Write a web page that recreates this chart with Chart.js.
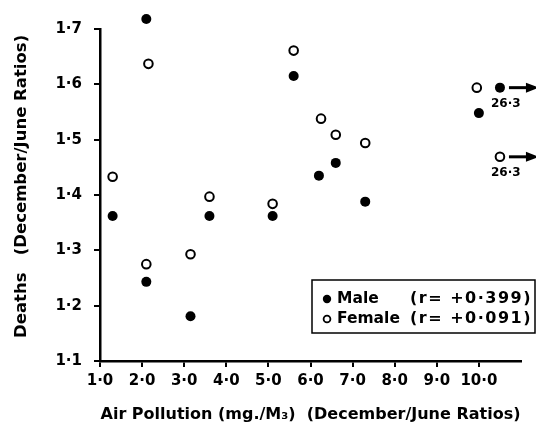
<!DOCTYPE html>
<html>
<head>
<meta charset="utf-8">
<script src="https://cdn.jsdelivr.net/npm/chart.js@4.4.0/dist/chart.umd.min.js"></script>
<style>
  html, body { margin: 0; padding: 0; background: #fff; }
</style>
</head>
<body>
<canvas id="c" width="536" height="424"></canvas>
<script>
// air pollution ratio (x) vs deaths ratio (y)
const maleX = [1.3, 2.1, 2.1, 3.15, 3.6, 5.1, 5.6, 6.2, 6.6, 7.3, 10.0, 10.5];
const maleY = [1.362, 1.718, 1.243, 1.181, 1.362, 1.362, 1.615, 1.435, 1.458, 1.388, 1.548, 1.594];
const femaleX = [1.3, 2.15, 2.1, 3.15, 3.6, 5.1, 5.6, 6.25, 6.6, 7.3, 9.95, 10.5];
const femaleY = [1.433, 1.637, 1.275, 1.293, 1.397, 1.384, 1.661, 1.538, 1.509, 1.494, 1.594, 1.469];
const seriesNames = ['Male', 'Female'];
const rValues = ['+0·399', '+0·091'];
const outlierIndex = 11;        // off-scale point, drawn with an arrow
const outlierLabel = '26·3';
const xTicks = [1, 2, 3, 4, 5, 6, 7, 8, 9, 10];
const yTicks = [1.1, 1.2, 1.3, 1.4, 1.5, 1.6, 1.7];

const FONT = 'DejaVu Sans';
const fmt = v => Number(v).toFixed(1).replace('.', '·');
const pts = (xs, ys) => xs.map((x, i) => ({ x: x, y: ys[i] }));

const extras = {
  id: 'extras',
  // let the point above 1.7 be drawn (points outside chartArea are skipped)
  beforeDatasetsDraw(chart) {
    chart._savedTop = chart.chartArea.top;
    chart.chartArea.top = 0;
  },
  afterDatasetsDraw(chart) {
    chart.chartArea.top = chart._savedTop;
    const ctx = chart.ctx;
    const xs = chart.scales.x, ys = chart.scales.y;
    const ca = chart.chartArea;
    ctx.save();
    ctx.fillStyle = '#000';
    ctx.strokeStyle = '#000';

    // arrows for the off-scale points
    chart.data.datasets.forEach(ds => {
      const p = ds.data[outlierIndex];
      const px = xs.getPixelForValue(p.x);
      const py = ys.getPixelForValue(p.y);
      ctx.lineWidth = 3;
      ctx.beginPath();
      ctx.moveTo(px + 9, py);
      ctx.lineTo(px + 28, py);
      ctx.stroke();
      ctx.beginPath();
      ctx.moveTo(px + 39, py);
      ctx.lineTo(px + 26, py - 5);
      ctx.lineTo(px + 26, py + 5);
      ctx.closePath();
      ctx.fill();
      ctx.font = 'bold 12px ' + FONT;
      ctx.textAlign = 'left';
      ctx.textBaseline = 'middle';
      ctx.fillText(outlierLabel, px - 9, py + 16);
    });

    // legend box
    const bx = ca.right - 209, by = ca.bottom - 81, bw = 223, bh = 53;
    ctx.lineWidth = 1.5;
    ctx.strokeRect(bx, by, bw, bh);
    ctx.textBaseline = 'middle';
    seriesNames.forEach((name, i) => {
      const ds = chart.data.datasets[i];
      const cy = by + 19 + i * 20;
      ctx.beginPath();
      ctx.arc(bx + 15, cy, i === 0 ? 4.2 : 3.4, 0, Math.PI * 2);
      if (i === 0) { ctx.fill(); } else { ctx.lineWidth = 1.8; ctx.stroke(); }
      ctx.textAlign = 'left';
      ctx.font = 'bold 15.5px ' + FONT;
      ctx.letterSpacing = '0px';
      ctx.fillText(ds.label, bx + 25, cy);
      ctx.font = 'bold 16px ' + FONT;
      ctx.letterSpacing = '1.5px';
      ctx.fillText('(r= ' + rValues[i] + ')', bx + 98, cy);
    });
    ctx.letterSpacing = '0px';
    ctx.restore();
  }
};

new Chart(document.getElementById('c'), {
  type: 'scatter',
  data: {
    datasets: [
      {
        label: seriesNames[0],
        data: pts(maleX, maleY),
        pointRadius: 5,
        pointHoverRadius: 5,
        backgroundColor: '#000',
        borderWidth: 0,
        clip: false
      },
      {
        label: seriesNames[1],
        data: pts(femaleX, femaleY),
        pointRadius: 4.3,
        pointHoverRadius: 4.3,
        backgroundColor: '#fff',
        borderColor: '#000',
        borderWidth: 2,
        clip: false
      }
    ]
  },
  options: {
    responsive: false,
    animation: false,
    events: [],
    layout: { padding: { top: 29, right: 15, left: 0, bottom: 0 } },
    plugins: { legend: { display: false }, tooltip: { enabled: false } },
    scales: {
      x: {
        type: 'linear',
        min: 1, max: 11,
        afterBuildTicks: s => { s.ticks = xTicks.map(v => ({ value: v })); },
        afterFit: s => { s.height = 63; },
        grid: { drawOnChartArea: false, color: '#000', lineWidth: 2, tickLength: 6 },
        border: { color: '#000', width: 2.5 },
        ticks: { color: '#000', padding: 5, font: { family: FONT, size: 15, weight: 'bold' }, callback: v => fmt(v), maxRotation: 0 },
        title: {
          display: true,
          text: 'Air Pollution (mg./M₃)  (December/June Ratios)',
          color: '#000',
          font: { family: FONT, size: 16, weight: 'bold' },
          padding: { top: 2, bottom: 0 }
        }
      },
      y: {
        min: 1.1, max: 1.7,
        afterBuildTicks: s => { s.ticks = yTicks.map(v => ({ value: v })); },
        afterFit: s => { s.width = 100; },
        grid: { drawOnChartArea: false, color: '#000', lineWidth: 2, tickLength: 6 },
        border: { color: '#000', width: 2.5 },
        ticks: { color: '#000', padding: 12, font: { family: FONT, size: 15, weight: 'bold' }, callback: v => fmt(v) },
        title: {
          display: true,
          text: '   Deaths   (December/June Ratios)',
          color: '#000',
          font: { family: FONT, size: 16.5, weight: 'bold' },
          padding: { top: 12, bottom: 0 }
        }
      }
    }
  },
  plugins: [extras]
});
</script>
</body>
</html>
